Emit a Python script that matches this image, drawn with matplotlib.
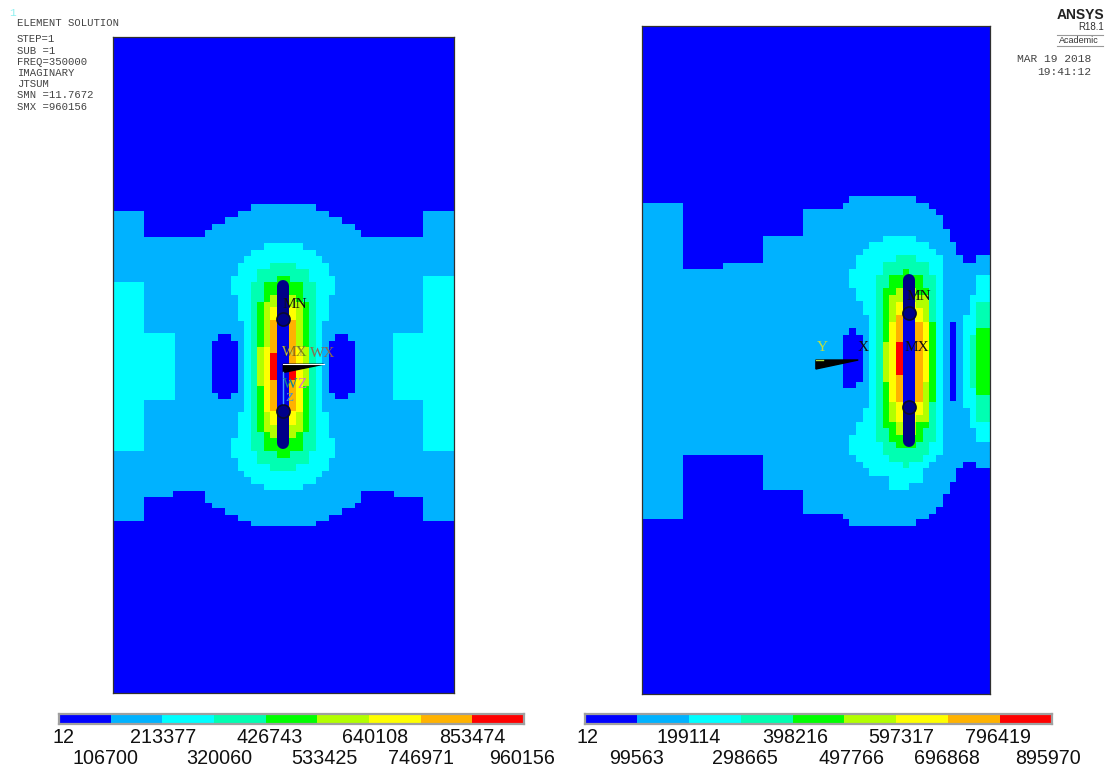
import numpy as np
import matplotlib
matplotlib.use("Agg")
import matplotlib.pyplot as plt
from matplotlib.colors import ListedColormap

W, H = 1108, 769
MONO = "Liberation Mono"
SANS = "Liberation Sans"
SERIF = "Liberation Serif"

# contour band colours, lowest to highest
colors = ["#0000ff", "#00b2ff", "#00ffff", "#00ffb2", "#00ff00",
          "#b2ff00", "#ffff00", "#ffb200", "#ff0000"]

# colour bar values
left_ticks = [12, 106700, 213377, 320060, 426743, 533425, 640108, 746971, 853474, 960156]
right_ticks = [12, 99563, 199114, 298665, 398216, 497766, 597317, 696868, 796419, 895970]

# model extents, in elements from the middle of the crack
left_xlim = (-26.2, 26.26)
left_ylim = (-50.7, 50.2)
right_xlim = (-40.07, 12.1)
right_ylim = (-50.07, 50.07)

# outer edge of band 1, column by column
left_edges = [-26.2, -21.5, -17, -12, -11, -9, -7, -5, 5, 7, 9, 11, 12, 17, 21.5, 26.26]
left_top = [24, 20, 20, 21, 22, 23, 24, 25, 24, 23, 22, 21, 20, 20, 24]
left_bottom = [23.7, 20.1, 19.1, 20.9, 21.8, 22.8, 23.7, 24.5,
               23.7, 22.8, 21.8, 20.9, 19.1, 20.1, 23.7]

right_edges = [-40.07, -34, -28, -22, -16, -10, -9, 1, 3, 4, 5, 6, 7, 8, 10, 12.1]
right_top = [23.6, 13.65, 14.6, 18.6, 22.6, 23.6, 24.55, 23.6, 22.6, 21.65, 19.6, 17.65, 15.7, 14.6, 15.7]
right_bottom = [23.85, 14.25, 14.25, 19.4, 23, 23.85, 24.8, 23.85, 23, 22, 20.1, 18.25, 16.25, 15.3, 16.25]

# left model: bands mirrored both ways, (from row, to row, half width)
left_runs = {
    2: [(18, 19, 3), (17, 18, 5), (16, 17, 6), (14, 16, 7), (11, 14, 8), (7, 11, 7), (0, 7, 6)],
    3: [(15, 16, 2), (13, 15, 4), (0, 13, 5)],
    4: [(13, 14, 1), (10, 13, 3), (0, 10, 4)],
    5: [(10, 11, 2), (3, 10, 3), (0, 3, 4)],
}
# (top, bottom, left, right)
left_cyan_side = [(-13, 13, -26.3, -21.5), (-14, 13, 21.5, 26.3),
                  (-5.1, 5.1, -21.5, -16.6), (-5.1, 5.1, 16.8, 21.5)]
left_low = [(-5, 5, -10, -8), (-4, 4, -11, -7), (-5, 5, 8, 10), (-4, 4, 7, 11)]
left_yellow = [(-9.2, 9, -2, 2), (-3, 7, -3, 3)]
left_orange = [(-7.2, 6.9, -2, 2)]
left_red = [(-2.1, 2.1, -2, 0), (0, 2.1, 0, 2)]

# right model bands, (top, bottom, left, right)
right_cyan = [(-18.6, -17.65, -4, 1), (-17.65, -16.65, -6, 3), (-16.65, -15.7, -7, 4),
              (-15.7, -13.6, -8, 5), (-13.6, -10.75, -9, 5), (-10.75, -8.75, -8, 5),
              (-8.75, -6.75, -7, 5), (-6.75, 7.25, -6, 5), (7.25, 9.25, -7, 5),
              (9.25, 11.25, -8, 5), (11.25, 14.25, -9, 5), (14.25, 15.3, -8, 4),
              (15.3, 16.25, -7, 3), (16.25, 17.4, -6, 2), (17.4, 18.4, -3, 2), (18.4, 19.4, -3, 0),
              (-12.7, -9.75, 10, 12.2), (-9.75, -6.75, 9, 12.2), (-6.75, 7.25, 8, 12.2),
              (7.25, 10.25, 9, 12.2), (10.25, 12.25, 10, 12.2)]
right_low = [(-5.65, 6.15, 6, 7), (-3.75, 3.25, -10, -7), (3.25, 4.25, -10, -8), (-4.75, -3.75, -9, -8)]
right_aqua = [(-15.65, -14.65, -2, 1), (-14.65, -12.75, -4, 3), (-12.75, 12.25, -5, 4),
              (12.25, 14.25, -4, 3), (14.25, 15.25, -3, 2), (15.25, 16.25, -1, 0),
              (-8.65, 9.25, 10, 12.2), (-3.75, 4.25, 9, 12.2)]
right_green = [(-13.65, -12.75, -1, 0), (-12.75, -10.75, -3, 2), (-10.75, 10.25, -4, 3),
               (-5.75, 6.25, -4, 4), (10.25, 12.25, -3, 2), (12.25, 13.25, -2, 1),
               (-4.75, 5.25, 10, 12.2)]
right_lime = [(-10.75, -9.65, -2, 1), (-9.65, 9.25, -3, 3), (-2.75, 3.25, -4, 3), (9.25, 11.25, -2, 1)]
right_yellow = [(-8.65, -7.75, -2, 1), (-7.75, -5.75, -2, 2), (-5.75, 3.25, -3, 3),
                (3.25, 6.25, -3, 2), (6.25, 8.25, -2, 2), (8.25, 9.25, -2, 1)]
right_orange = [(-6.75, 6.25, -2, 0), (-5.75, 6.25, 0, 2)]
right_red = [(-2.75, 2.25, -2, 0)]


def mirror(runs):
    rects = []
    for d0, d1, w in runs:
        rects.append((-d1, -d0, -w, w))
        rects.append((d0, d1, -w, w))
    return rects


def columns(edges, top, bottom):
    return [(-t, b, edges[i], edges[i + 1]) for i, (t, b) in enumerate(zip(top, bottom))]


def field(xlim, ylim, layers):
    xs = np.arange(xlim[0], xlim[1] + 0.1, 0.1)
    ys = np.arange(ylim[0], ylim[1] + 0.1, 0.1)
    xc, yc = np.meshgrid((xs[:-1] + xs[1:]) / 2, (ys[:-1] + ys[1:]) / 2)
    grid = np.zeros(xc.shape, dtype=int)
    for level, rects in layers:
        for t, b, l, r in rects:
            grid[(yc >= t) & (yc < b) & (xc >= l) & (xc < r)] = level
    return xs, ys, grid


def panel(x0, y0, x1, y1, xlim, ylim, layers):
    ax = fig.add_axes([x0 / W, 1 - y1 / H, (x1 - x0) / W, (y1 - y0) / H])
    xs, ys, grid = field(xlim, ylim, layers)
    ax.pcolormesh(xs, ys, grid, cmap=cmap, vmin=-0.5, vmax=8.5)
    ax.set_xlim(xlim)
    ax.set_ylim(ylim[1], ylim[0])
    ax.set_xticks([])
    ax.set_yticks([])
    for s in ax.spines.values():
        s.set_color("#303030")
        s.set_linewidth(0.9)
    return ax


def crack(ax, top, bottom, c1, c2, half):
    # 1 px = 0.72 pt at dpi 100
    lw = 12 * 0.72
    ax.plot([0, 0], [top + half, bottom - half], color="#000088", lw=lw, solid_capstyle="round", zorder=3)
    ax.plot([0, 0], [c1, c2], color="#0000e6", lw=lw, solid_capstyle="butt", zorder=3)
    ax.plot([0, 0], [c1, c2], ls="", marker="o", ms=lw + 0.8, mfc="#00008a", mec="#0a0a30", mew=1.2, zorder=4)


def color_bar(x0, x1, ticks, nudges):
    ax = fig.add_axes([x0 / W, 1 - 723.5 / H, (x1 - x0) / W, 9.5 / H])
    ax.pcolormesh(ticks, [0, 1], np.arange(9).reshape(1, 9), cmap=cmap, vmin=-0.5, vmax=8.5)
    ax.set_xlim(ticks[0], ticks[-1])
    ax.set_xticks([])
    ax.set_yticks([])
    for s in ax.spines.values():
        s.set_color("#a0a0a0")
        s.set_linewidth(1.6)
    for i, (v, dx) in enumerate(zip(ticks, nudges)):
        drop = 14 if i % 2 == 0 else 34.5
        ax.annotate(str(v), (v, 0), xytext=(dx * 0.72, -drop * 0.72), textcoords="offset points",
                    ha="center", va="center", fontsize=14.2, family=SANS, color="#111111",
                    annotation_clip=False)


cmap = ListedColormap(colors)
fig = plt.figure(figsize=(W / 100, H / 100), dpi=100, facecolor="white")

ax1 = panel(113, 37, 454, 693, left_xlim, left_ylim, [
    (1, columns(left_edges, left_top, left_bottom)),
    (2, mirror(left_runs[2]) + left_cyan_side),
    (0, left_low),
    (3, mirror(left_runs[3])),
    (4, mirror(left_runs[4])),
    (5, mirror(left_runs[5])),
    (6, left_yellow),
    (7, left_orange),
    (8, left_red),
])
ax2 = panel(642, 26, 990, 694, right_xlim, right_ylim, [
    (1, columns(right_edges, right_top, right_bottom)),
    (2, right_cyan),
    (0, right_low),
    (3, right_aqua),
    (4, right_green),
    (5, right_lime),
    (6, right_yellow),
    (7, right_orange),
    (8, right_red),
])

crack(ax1, -13.3, 12.7, -7.4, 6.9, 0.92)
crack(ax2, -12.85, 13, -7, 7, 0.9)

# left triad and labels
ax1.fill([0, 0, 6.2], [-0.37, 0.9, -0.37], color="black", zorder=5)
ax1.plot([0, 6.2], [-0.45, -0.45], color="white", lw=0.8, zorder=5)
ax1.plot([0, 0], [0.9, 5.6], color="#40a0ff", lw=1, zorder=5)
tkw = dict(family=SERIF, fontsize=11, ha="center", va="center", zorder=6)
ax1.text(1.8, -9.6, "MN", color="#101010", **tkw)
ax1.text(1.8, -2.2, "WY", color="#c8c840", **tkw)
ax1.text(1.8, -2.2, "MX", color="#202020", alpha=0.5, **tkw)
ax1.text(6.1, -2.0, "WX", color="#8a6a50", **tkw)
ax1.text(1.1, 2.7, "W", color="#108890", **tkw)
ax1.text(2.9, 2.7, "Z", color="#e070c0", **tkw)
ax1.text(0.9, 4.9, "Z", color="#4090d0", family=SERIF, fontsize=9.5, ha="center", va="center", zorder=6)

# right triad and labels
ax2.fill([-14, -14, -7.65], [0, 1.35, 0], color="black", zorder=5)
ax2.plot([-14, -13], [-0.05, -0.05], color="#b2e040", lw=1, zorder=5)
ax2.text(1.5, -9.5, "MN", color="#101010", **tkw)
ax2.text(1.2, -1.9, "MX", color="#101010", **tkw)
ax2.text(-6.9, -1.9, "X", color="#101010", **tkw)
ax2.text(-13.1, -1.9, "Y", color="#c0e040", **tkw)

color_bar(59, 524, left_ticks, [4, -5, 1, 5, 4, 7, 6, 0, 0, -2])
color_bar(585, 1052, right_ticks, [3, 0, 0, 4, 3, 7, 5, -1, -2, -4])

# header text
head = ["STEP=1", "SUB =1", "FREQ=350000", "IMAGINARY", "JTSUM", "SMN =11.7672", "SMX =960156"]
hkw = dict(family=MONO, fontsize=7.7, color="#444444", va="center")
fig.text(9 / W, 1 - 13 / H, "1", family=MONO, fontsize=8, color="#90f0f0", va="center")
fig.text(17 / W, 1 - 23 / H, "ELEMENT SOLUTION", **hkw)
for i, s in enumerate(head):
    fig.text(17 / W, 1 - (39.5 + i * 11.2) / H, s, **hkw)

fig.text(1104 / W, 1 - 15 / H, "ANSYS", family=SANS, weight="bold", fontsize=10, color="#222222", ha="right", va="center")
fig.text(1104 / W, 1 - 27 / H, "R18.1", family=SANS, fontsize=7, color="#333333", ha="right", va="center")
fig.text(1099 / W, 1 - 40.5 / H, "Academic", family=SANS, fontsize=6.5, color="#333333", ha="right", va="center")
fig.add_artist(plt.Line2D([1057 / W, 1103 / W], [1 - 35 / H, 1 - 35 / H], color="#999999", lw=0.8))
fig.add_artist(plt.Line2D([1057 / W, 1103 / W], [1 - 46 / H, 1 - 46 / H], color="#999999", lw=0.8))
fig.text(1091 / W, 1 - 59.5 / H, "MAR 19 2018", ha="right", family=MONO, fontsize=8.1, color="#444444", va="center")
fig.text(1091 / W, 1 - 72 / H, "19:41:12", ha="right", family=MONO, fontsize=8.1, color="#444444", va="center")

fig.savefig("out.png", dpi=100)
